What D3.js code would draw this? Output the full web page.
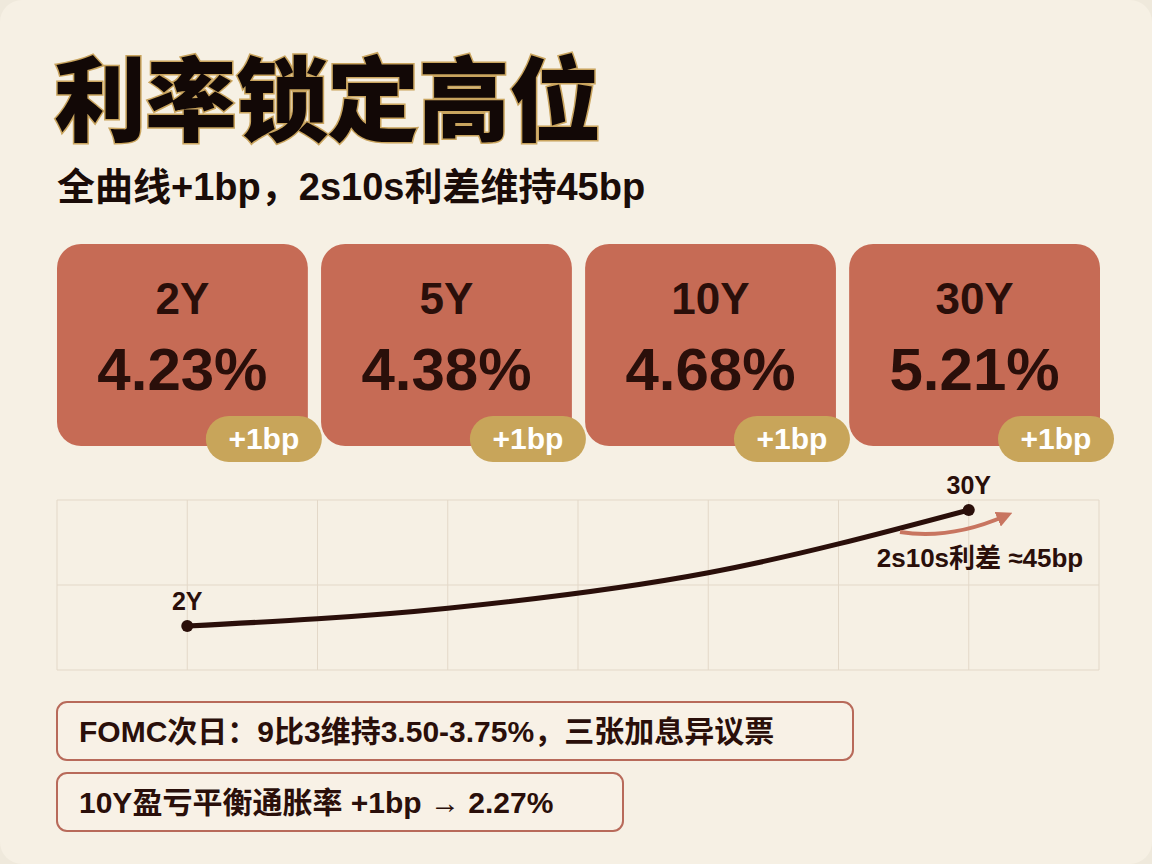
<!DOCTYPE html>
<html><head><meta charset="utf-8">
<script src="https://cdn.jsdelivr.net/npm/d3@7"></script>
<style>body{margin:0;background:#efe9dc}</style>
</head><body><div id="viz"></div>
<script>
let tenors = ["2Y", "5Y", "10Y", "30Y"];
let yields = [4.23, 4.38, 4.68, 5.21];
let changes = ["+1bp", "+1bp", "+1bp", "+1bp"];
let curvePos = [1, 3, 5, 7];
let notes = ["FOMC次日：9比3维持3.50-3.75%，三张加息异议票", "10Y盈亏平衡通胀率 +1bp → 2.27%"];
let noteWidths = [796, 566];

let w = 1152, h = 864;
let font = "'Liberation Sans', 'Noto Sans CJK SC', sans-serif";
let dark = "#2a0f0a";

let viz = d3.select("#viz").append("svg").attr("width", w).attr("height", h)
    .style("font-family", font);

viz.append("rect").attr("x", 0).attr("y", 0).attr("width", w).attr("height", h)
    .attr("rx", 22).attr("fill", "#f6f0e4");

// title
viz.append("text").attr("x", 54).attr("y", 134).text("利率锁定高位")
    .attr("font-size", 92).attr("font-weight", 900).attr("fill", "#120806")
    .attr("stroke", "#c9a45e").attr("stroke-width", 3).attr("paint-order", "stroke")
    .attr("letter-spacing", -1);
viz.append("text").attr("x", 57).attr("y", 200).text("全曲线+1bp，2s10s利差维持45bp")
    .attr("font-size", 38).attr("font-weight", 700).attr("fill", "#1a0c08");

// cards
let cardX = d3.scaleBand().domain(tenors).range([57, 1100]).paddingInner(0.05);
let cards = viz.selectAll(".card").data(tenors).enter().append("g")
    .attr("transform", d => "translate(" + cardX(d) + ",244)");
cards.append("rect").attr("width", cardX.bandwidth()).attr("height", 202).attr("rx", 24)
    .attr("fill", "#c66b55");
cards.append("text").attr("x", cardX.bandwidth() / 2).attr("y", 70)
    .attr("text-anchor", "middle").attr("font-size", 44).attr("font-weight", 700)
    .attr("fill", dark).text(d => d);
cards.append("text").attr("x", cardX.bandwidth() / 2).attr("y", 146)
    .attr("text-anchor", "middle").attr("font-size", 60).attr("font-weight", 700)
    .attr("fill", dark).text((d, i) => yields[i].toFixed(2) + "%");
cards.append("rect").attr("x", cardX.bandwidth() - 102).attr("y", 172)
    .attr("width", 116).attr("height", 46).attr("rx", 23).attr("fill", "#c8a55a");
cards.append("text").attr("x", cardX.bandwidth() - 44).attr("y", 205)
    .attr("text-anchor", "middle").attr("font-size", 30).attr("font-weight", 700)
    .attr("fill", "#fff").text((d, i) => changes[i]);

// curve chart
let x = d3.scaleLinear().domain([0, 8]).range([57, 1099]);
let y = d3.scaleLinear().domain([4.23, 5.21]).range([626, 510]);
let gridY = [500, 585, 670];
let grid = viz.append("g").attr("stroke", "#e3d8c8").attr("stroke-width", 1);
grid.selectAll(".v").data(d3.range(9)).enter().append("line")
    .attr("x1", d => x(d)).attr("x2", d => x(d)).attr("y1", 500).attr("y2", 670);
grid.selectAll(".h").data(gridY).enter().append("line")
    .attr("x1", 57).attr("x2", 1099).attr("y1", d => d).attr("y2", d => d);

let pts = tenors.map((t, i) => [x(curvePos[i]), y(yields[i])]);
viz.append("path").attr("d", d3.line().curve(d3.curveMonotoneX)(pts))
    .attr("fill", "none").attr("stroke", dark).attr("stroke-width", 5);
[0, 3].forEach(i => {
    viz.append("circle").attr("cx", pts[i][0]).attr("cy", pts[i][1]).attr("r", 6).attr("fill", dark);
});
viz.append("text").attr("x", pts[0][0]).attr("y", pts[0][1] - 16).attr("text-anchor", "middle")
    .attr("font-size", 25).attr("font-weight", 700).attr("fill", dark).text(tenors[0]);
viz.append("text").attr("x", pts[3][0]).attr("y", pts[3][1] - 16).attr("text-anchor", "middle")
    .attr("font-size", 25).attr("font-weight", 700).attr("fill", dark).text(tenors[3]);

// spread arrow
viz.append("defs").append("marker").attr("id", "ah").attr("viewBox", "0 0 10 10")
    .attr("refX", 5).attr("refY", 5).attr("markerWidth", 4).attr("markerHeight", 4)
    .attr("orient", "auto").append("path").attr("d", "M0,0L10,5L0,10z").attr("fill", "#c87560");
viz.append("path").attr("d", "M900,532 Q950,540 1005,516")
    .attr("fill", "none").attr("stroke", "#c87560").attr("stroke-width", 4).attr("marker-end", "url(#ah)");
viz.append("text").attr("x", 980).attr("y", 567).attr("text-anchor", "middle")
    .attr("font-size", 26).attr("font-weight", 700).attr("fill", dark).text("2s10s利差 ≈45bp");

// notes
let ng = viz.selectAll(".note").data(notes).enter().append("g")
    .attr("transform", (d, i) => "translate(57," + (702 + i * 71) + ")");
ng.append("rect").attr("width", (d, i) => noteWidths[i]).attr("height", 58).attr("rx", 10)
    .attr("fill", "#f8f1e6").attr("stroke", "#b86a5a").attr("stroke-width", 2);
ng.append("text").attr("x", 22).attr("y", 40).attr("font-size", 30).attr("font-weight", 700)
    .attr("fill", dark).text(d => d);
</script></body></html>
